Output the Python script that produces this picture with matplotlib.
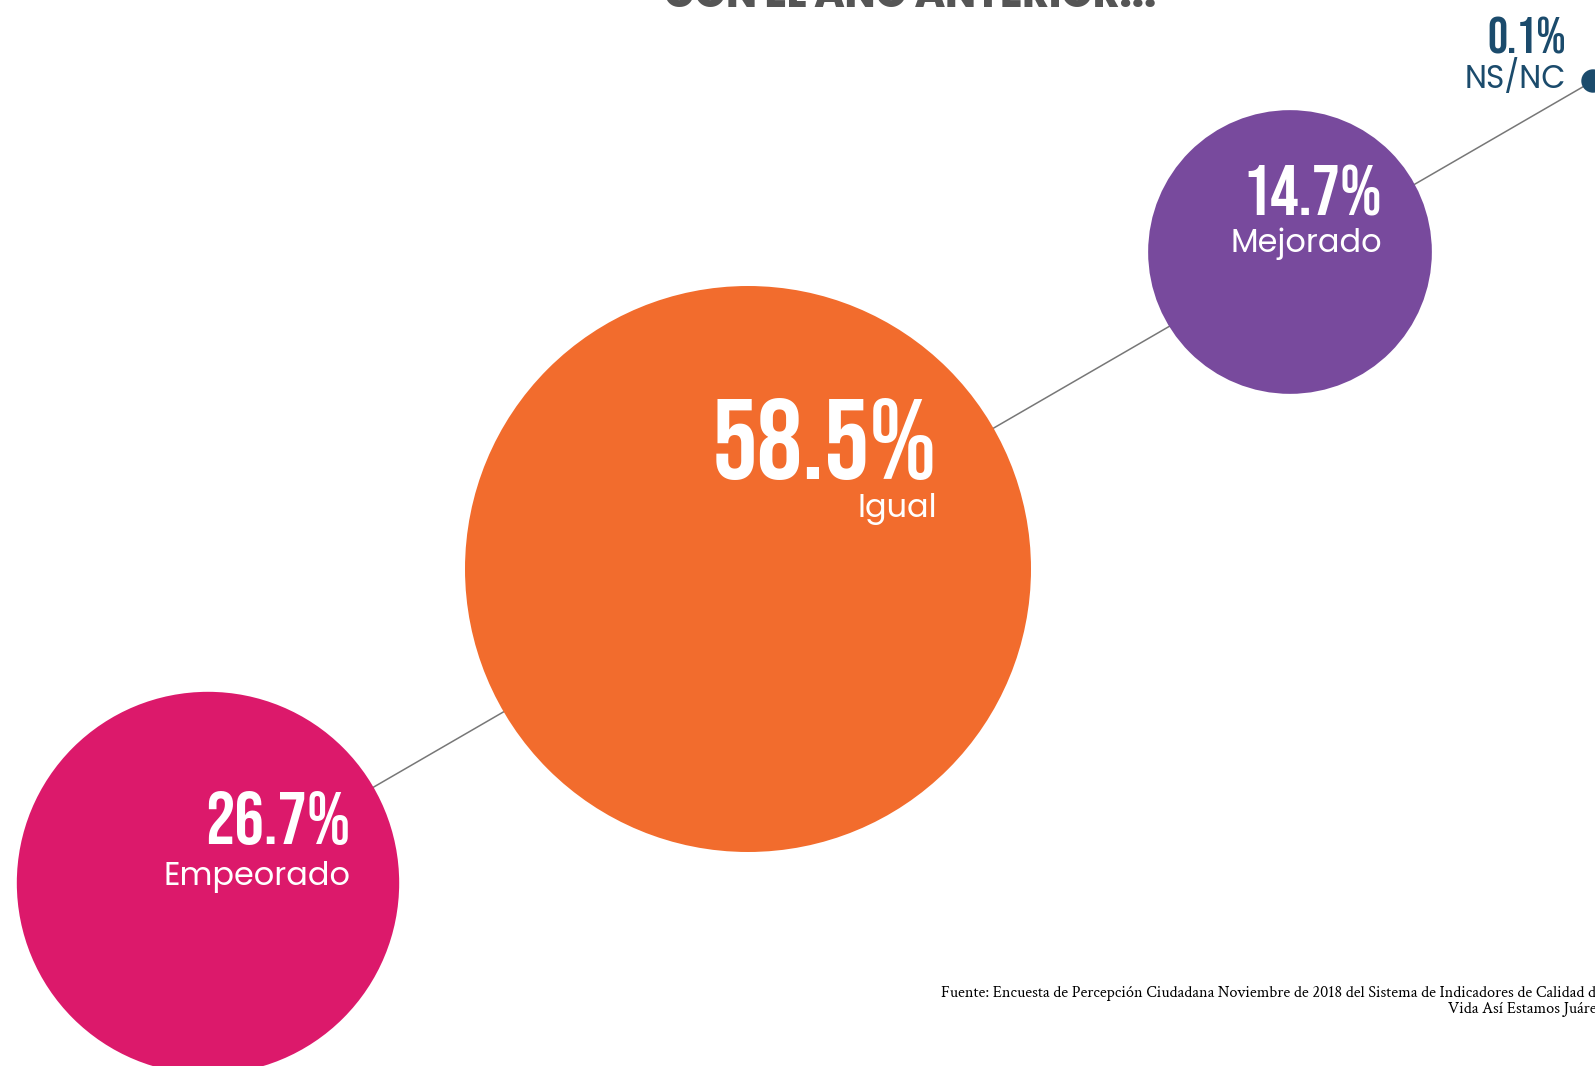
import numpy as np
import matplotlib.pyplot as plt
from matplotlib.patches import Circle

# data
categories = ["Empeorado", "Igual", "Mejorado", "NS/NC"]
values = [26.7, 58.5, 14.7, 0.1]
colors = ["#DC196B", "#F26C2D", "#784A9D", "#1B4B6C"]

# layout (pixel space, y down)
W, H = 1595, 1066
cx = [208, 748, 1290, 1593]
cy = [883, 569, 252, 81]
scale = 37.0  # radius = scale * sqrt(value)
label_x = [351, 937, 1382, 1566]
pct_y = [844, 479, 215, 53]
name_y = [885, 517, 252, 88]
pct_size = [53, 82, 51, 36]
name_size = [23, 23, 23, 22.5]
text_colors = ["white", "white", "white", "#1B4B6C"]

NUM_FONT = ["Bebas Neue", "Oswald", "DejaVu Sans"]
LBL_FONT = ["Poppins", "Lato", "DejaVu Sans"]

fig = plt.figure(figsize=(W / 100, H / 100), dpi=100)
ax = fig.add_axes([0, 0, 1, 1])
ax.set_xlim(0, W)
ax.set_ylim(H, 0)
ax.set_aspect("equal")
ax.axis("off")

# connecting line
ax.plot([cx[0], cx[-1]], [cy[0], cy[-1]], color="#777777", lw=1.1, zorder=1)

for i, v in enumerate(values):
    r = scale * np.sqrt(v)
    ax.add_patch(Circle((cx[i], cy[i]), r, color=colors[i], zorder=2, lw=0))
    ax.text(label_x[i], pct_y[i], f"{v:.1f}%", ha="right", va="baseline",
            fontsize=pct_size[i], color=text_colors[i],
            family=NUM_FONT, zorder=3)
    ax.text(label_x[i], name_y[i], categories[i], ha="right", va="baseline",
            fontsize=name_size[i], fontweight="normal", color=text_colors[i],
            family=LBL_FONT, zorder=3)

# cut-off title
ax.text(910, 7, "CON EL AÑO ANTERIOR...", ha="center", va="baseline",
        fontsize=29, fontweight="heavy", color="#555555",
        family=["Poppins", "DejaVu Sans"])

# source note
ax.text(1603, 1013,
        "Fuente: Encuesta de Percepción Ciudadana Noviembre de 2018 del Sistema de Indicadores de Calidad de\n"
        "Vida Así Estamos Juárez",
        ha="right", va="baseline", multialignment="right", fontsize=11.7,
        color="black", family=["Crimson Text", "Liberation Serif"],
        linespacing=1.05)

fig.savefig("out.png", dpi=100)
